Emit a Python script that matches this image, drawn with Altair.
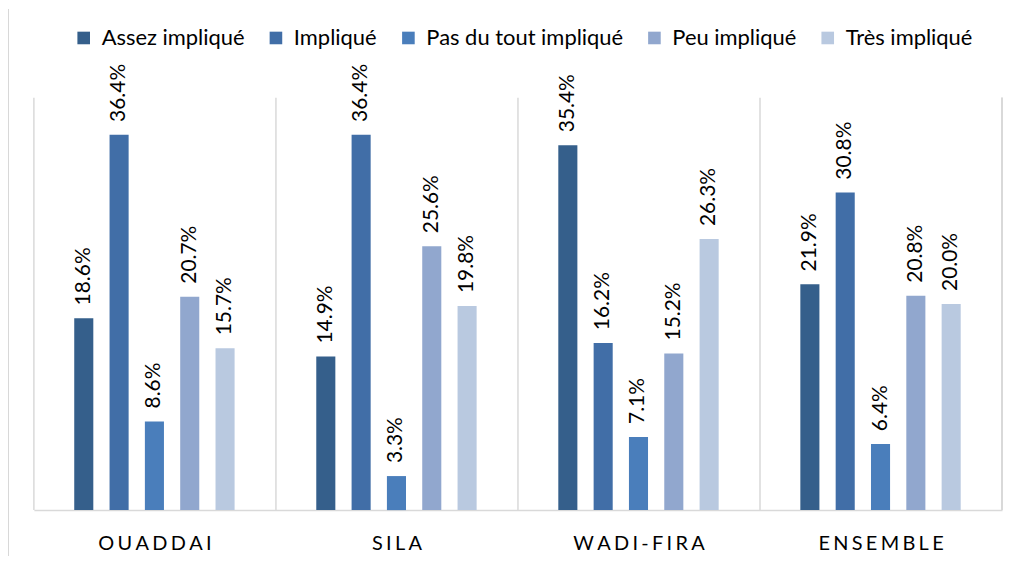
import altair as alt
import pandas as pd

regions = ["OUADDAI", "SILA", "WADI-FIRA", "ENSEMBLE"]
cats = ["Assez impliqué", "Impliqué", "Pas du tout impliqué", "Peu impliqué", "Très impliqué"]
colors = ["#355F8B", "#416EA7", "#4A7EBB", "#91A7CE", "#B9C9E0"]

ouaddai = [18.6, 36.4, 8.6, 20.7, 15.7]
sila = [14.9, 36.4, 3.3, 25.6, 19.8]
wadi_fira = [35.4, 16.2, 7.1, 15.2, 26.3]
ensemble = [21.9, 30.8, 6.4, 20.8, 20.0]

series = {"OUADDAI": ouaddai, "SILA": sila, "WADI-FIRA": wadi_fira, "ENSEMBLE": ensemble}
rows = []
for r in regions:
    for c, v in zip(cats, series[r]):
        rows.append({"region": r, "cat": c, "value": v})
df = pd.DataFrame(rows)
reg_df = pd.DataFrame({"region": regions})

W, H = 972, 414
FONT = "Lato"
GRID = "#d9d9d9"

xenc = alt.X(
    "region:N", sort=regions,
    scale=alt.Scale(paddingInner=0, paddingOuter=0),
    axis=alt.Axis(
        title=None, labelAngle=0, ticks=False, grid=False, bandPosition=0.5,
        domainColor=GRID, domainWidth=1.5,
        labelFontSize=20, labelFont=FONT, labelColor="#000", labelPadding=34,
        labelAlign="center",
        labelExpr="join(split(datum.label, ''), '\u2006')",
    ),
)

base = alt.Chart(df).encode(
    x=xenc,
    xOffset=alt.XOffset("cat:N", sort=cats,
                        scale=alt.Scale(range=[40.5, 201.5], paddingInner=0.46, paddingOuter=0)),
    y=alt.Y("value:Q", scale=alt.Scale(domain=[0, 40]), axis=None),
)

bars = base.mark_bar().encode(
    color=alt.Color(
        "cat:N", sort=cats,
        scale=alt.Scale(domain=cats, range=colors),
        legend=alt.Legend(
            title=None, orient="none", legendX=39, legendY=-71,
            direction="horizontal", symbolType="square", symbolSize=160,
            symbolStrokeWidth=0, labelFontSize=22, labelFont=FONT, labelColor="#000",
            columnPadding=20, labelOffset=7, padding=0, labelLimit=400,
        ),
    )
)

labels = base.transform_calculate(
    label="format(datum.value, '.1f') + '%'"
).mark_text(
    angle=270, align="left", baseline="middle", dx=13, fontSize=21, font=FONT, color="#000"
).encode(text="label:N")

seps = alt.Chart(reg_df).mark_rule(color=GRID, strokeWidth=1.5).encode(
    x=alt.X("region:N", sort=regions, bandPosition=0),
    y=alt.value(0), y2=alt.value(H),
)
right_edge = alt.Chart(reg_df).mark_rule(color=GRID, strokeWidth=1.5).encode(
    x=alt.value(W), y=alt.value(0), y2=alt.value(H),
)
frame_left = alt.Chart(reg_df).mark_rule(color=GRID, strokeWidth=1.5).encode(
    x=alt.value(-26), y=alt.value(-89), y2=alt.value(H + 60),
)

chart = alt.layer(seps, right_edge, frame_left, bars, labels).properties(
    width=W, height=H,
    autosize=alt.AutoSizeParams(type="none"),
    padding={"left": 26, "top": 89, "right": 10, "bottom": 45},
).configure_view(stroke=None)

chart.save("out.html", embed_options={"renderer": "svg", "actions": False})
